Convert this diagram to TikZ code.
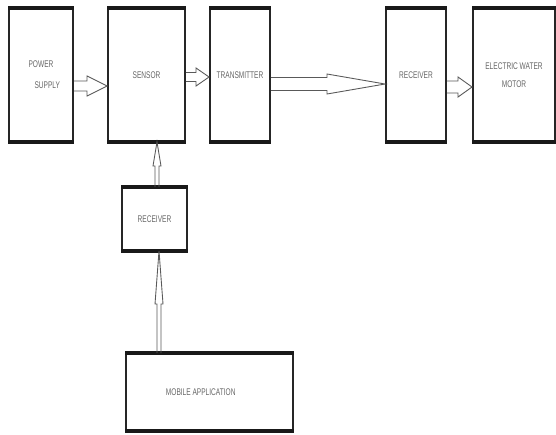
\documentclass[tikz,border=0pt]{standalone}
\usepackage{fontspec}
\newfontfamily\blkfont[FakeStretch=0.68]{Liberation Sans}
\usetikzlibrary{calc}

\tikzset{
  blk/.style={draw=black!85, line width=1.1pt, fill=white, inner sep=0pt, align=center,
    font=\blkfont\fontsize{5.5}{6}\selectfont, text=black!60},
  bar/.style={draw=black!90, line width=2.6pt},
  hollow/.style={draw=black!65, line width=0.5pt, line join=miter},
}
% hollow block arrows: start, end, shaft half width, head half width, head length
\newcommand{\harrow}[5]{%
  \draw[hollow] let \p1=(#1), \p2=(#2) in
    (\x1,\y1+#3) -- (\x2-#5,\y1+#3) -- (\x2-#5,\y1+#4) -- (\x2,\y1)
    -- (\x2-#5,\y1-#4) -- (\x2-#5,\y1-#3) -- (\x1,\y1-#3);}
\newcommand{\varrow}[5]{%
  \draw[hollow] let \p1=(#1), \p2=(#2) in
    (\x1-#3,\y1) -- (\x1-#3,\y2-#5) -- (\x1-#4,\y2-#5) -- (\x1,\y2)
    -- (\x1+#4,\y2-#5) -- (\x1+#3,\y2-#5) -- (\x1+#3,\y1);}

\begin{document}
\begin{tikzpicture}[x=0.02cm, y=-0.02cm]
\useasboundingbox (0,0) rectangle (556,434);

% top row
\node[blk, minimum width=1.28cm, minimum height=2.64cm] (pwr) at (41,75) {POWER\\[6pt]\hspace{0.25cm}SUPPLY};
\node[blk, minimum width=1.54cm, minimum height=2.64cm] (sen) at (146.5,75) {SENSOR};
\node[blk, minimum width=1.2cm, minimum height=2.64cm] (trn) at (240,75) {TRANSMITTER};
\node[blk, minimum width=1.2cm, minimum height=2.64cm] (rcv) at (416,75) {\raisebox{-0.1cm}{RECEIVER}};
\node[blk, minimum width=1.64cm, minimum height=2.64cm] (mot) at (514,75) {ELECTRIC WATER\\[4pt]MOTOR};

% lower column
\node[blk, minimum width=1.3cm, minimum height=1.24cm] (rx) at (154.5,219) {RECEIVER};
\node[blk, minimum width=3.34cm, minimum height=1.52cm] (app) at (209.5,392) {\hspace{-0.35cm}\raisebox{-0.1cm}{MOBILE APPLICATION}};

\foreach \n in {pwr,sen,trn,rcv,mot,rx,app} {
  \draw[bar] (\n.north west) -- (\n.north east);
  \draw[bar] (\n.south west) -- (\n.south east);
}

% arrows
\harrow{[yshift=-0.22cm]pwr.east}{sen.west}{0.1cm}{0.2cm}{0.4cm}
\harrow{[yshift=-0.04cm]sen.east}{trn.west}{0.09cm}{0.18cm}{0.26cm}
\harrow{[yshift=-0.18cm]trn.east}{rcv.west}{0.13cm}{0.2cm}{1.16cm}
\harrow{[yshift=-0.24cm]rcv.east}{mot.west}{0.12cm}{0.2cm}{0.28cm}
\varrow{[xshift=0.05cm]rx.north}{sen.south}{0.04cm}{0.08cm}{0.48cm}
\varrow{[xshift=-1.01cm]app.north}{rx.south}{0.04cm}{0.08cm}{1.06cm}
\end{tikzpicture}
\end{document}
